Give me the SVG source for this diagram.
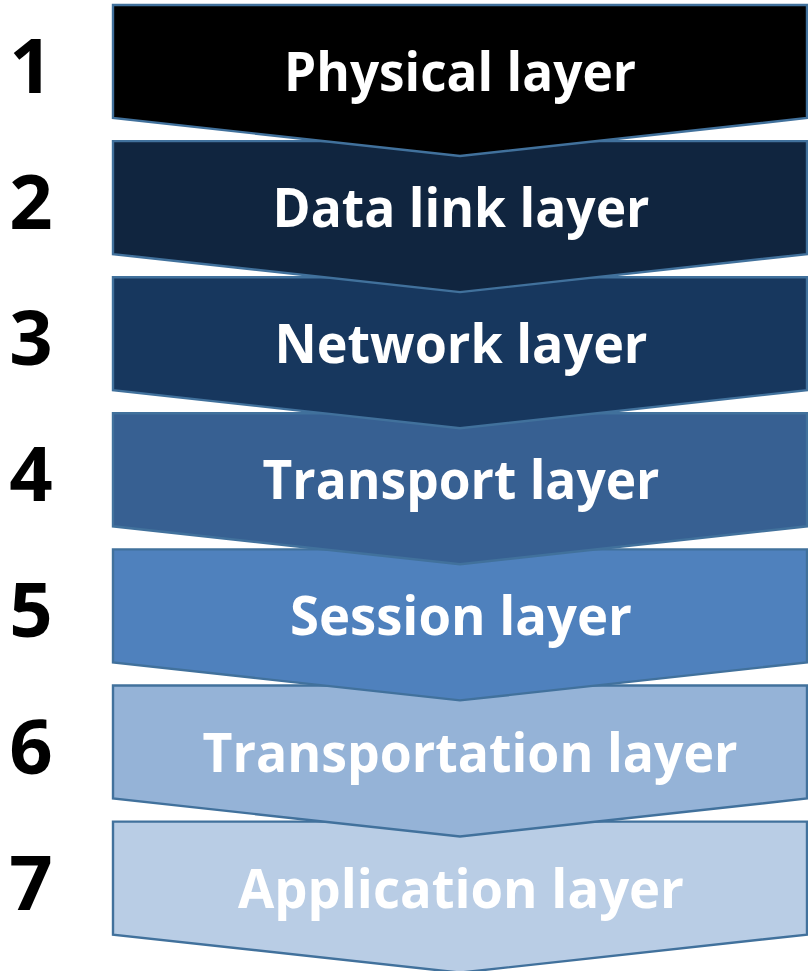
<svg xmlns="http://www.w3.org/2000/svg" width="808" height="971" viewBox="0 0 808 971">
<style>
.s{stroke:#41719C;stroke-width:2.4;stroke-linejoin:miter}
.t{font-family:"Open Sans","Liberation Sans",sans-serif;font-weight:bold;font-size:53px;fill:#FFFFFF;text-anchor:middle}
.n{font-family:"Open Sans","Liberation Sans",sans-serif;font-weight:bold;font-size:76px;fill:#000000;text-anchor:middle}
</style>
<defs>
<path id="chev" d="M113,0 H807 V113 L460,151 L113,113 Z"/>
</defs>
<rect width="808" height="971" fill="#FFFFFF"/>
<g id="layer7" transform="translate(0,821.6)">
<use href="#chev" class="s" fill="#B9CDE5"/>
<text class="t" x="461" y="86" textLength="446" lengthAdjust="spacingAndGlyphs">Application layer</text>
</g>
<g id="layer6" transform="translate(0,685.5)">
<use href="#chev" class="s" fill="#95B3D7"/>
<text class="t" x="470" y="86" textLength="535" lengthAdjust="spacingAndGlyphs">Transportation layer</text>
</g>
<g id="layer5" transform="translate(0,549.4)">
<use href="#chev" class="s" fill="#4F81BD"/>
<text class="t" x="461" y="86" textLength="342" lengthAdjust="spacingAndGlyphs">Session layer</text>
</g>
<g id="layer4" transform="translate(0,413.3)">
<use href="#chev" class="s" fill="#376092"/>
<text class="t" x="461" y="86" textLength="397" lengthAdjust="spacingAndGlyphs">Transport layer</text>
</g>
<g id="layer3" transform="translate(0,277.2)">
<use href="#chev" class="s" fill="#17375E"/>
<text class="t" x="461" y="86" textLength="373" lengthAdjust="spacingAndGlyphs">Network layer</text>
</g>
<g id="layer2" transform="translate(0,141.1)">
<use href="#chev" class="s" fill="#10253F"/>
<text class="t" x="461" y="86" textLength="377" lengthAdjust="spacingAndGlyphs">Data link layer</text>
</g>
<g id="layer1" transform="translate(0,5)">
<use href="#chev" class="s" fill="#000000"/>
<text class="t" x="460" y="86" textLength="352" lengthAdjust="spacingAndGlyphs">Physical layer</text>
</g>
<g id="numbers">
<text class="n" x="31" y="93">1</text>
<text class="n" x="31" y="229">2</text>
<text class="n" x="31" y="365">3</text>
<text class="n" x="31" y="501">4</text>
<text class="n" x="31" y="637">5</text>
<text class="n" x="31" y="774">6</text>
<text class="n" x="31" y="910">7</text>
</g>
</svg>
